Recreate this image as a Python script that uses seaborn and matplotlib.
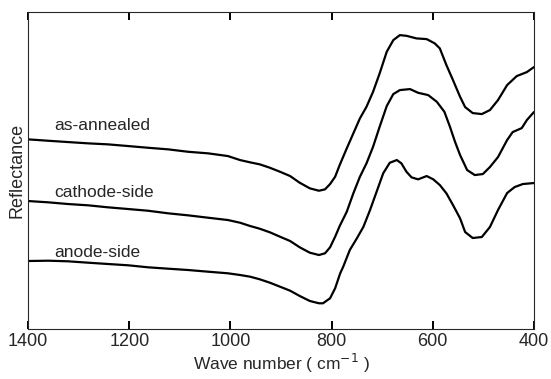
import numpy as np
import pandas as pd
import matplotlib
matplotlib.use("Agg")
import matplotlib.pyplot as plt
import seaborn as sns

# values (y in arbitrary reflectance units)
wn_annealed = [1400, 1360, 1321, 1281, 1242, 1202, 1163, 1123, 1084, 1044, 1005, 981,
               961, 942, 922, 902, 882, 863, 843, 825, 813, 803, 793, 784, 770, 757,
               744, 731, 718, 705, 691, 678, 665, 652, 632, 612, 596, 586, 573, 560,
               546, 536, 521, 503, 487, 471, 453, 434, 414, 400]
r_annealed = [189.7, 188.3, 187, 185.7, 184.7, 183, 181.3, 179.7, 177.3, 175.7, 173, 169,
              166.7, 164.7, 161.3, 157.3, 153, 146.3, 140.7, 138.3, 139.7, 145, 152.3, 164,
              180.7, 195.7, 210.7, 222.3, 237.3, 255.7, 277.3, 289, 294, 293.3, 290.7, 290,
              285.7, 280.7, 264, 249, 232.3, 222, 216, 215, 219, 229, 244, 253, 257, 262]

wn_cathode = [1400, 1360, 1321, 1281, 1242, 1202, 1163, 1123, 1084, 1044, 1005, 981,
              961, 942, 922, 902, 882, 863, 843, 825, 813, 803, 793, 784, 770, 757,
              744, 731, 718, 705, 691, 678, 665, 645, 629, 609, 592, 577, 566, 556,
              546, 532, 517, 501, 487, 471, 453, 442, 424, 414, 400]
r_cathode = [128, 126.7, 125, 123.7, 121.7, 120, 118.3, 115.7, 113.7, 111.3, 109, 106.3,
             103, 100.3, 96.7, 92.3, 88, 81.7, 76.3, 74, 75.7, 81.7, 92.3, 103, 117.3,
             135.7, 152.3, 165.7, 182.3, 202.3, 223, 235, 239, 240, 236.3, 234, 227.3,
             217.3, 202.3, 187.3, 174, 159, 154, 155, 162, 172, 189, 197, 201, 209, 217]

wn_anode = [1400, 1360, 1321, 1281, 1242, 1202, 1163, 1123, 1084, 1044, 1005, 981,
            961, 942, 922, 902, 882, 863, 843, 825, 817, 803, 793, 783, 777, 764,
            750, 737, 724, 711, 698, 685, 671, 662, 652, 642, 629, 612, 599, 586,
            573, 560, 546, 536, 521, 503, 487, 471, 453, 438, 422, 400]
r_anode = [68, 68.3, 67.7, 66.3, 65, 63.7, 61.7, 60.3, 59, 57.3, 55.7, 54,
           52.3, 49.7, 46.3, 42.3, 38.3, 33, 28, 25.7, 25.7, 30.7, 40.7, 55.7, 62.3, 79,
           90.7, 102.3, 119, 137.3, 155.7, 166.3, 169, 165.7, 157.3, 151.7, 149.7, 153,
           149.7, 144, 135.7, 124, 110.7, 97, 91, 92, 102, 119, 136, 142, 145, 146]

labels = ["as-annealed", "cathode-side", "anode-side"]
label_y = [204, 137, 77]

sns.set_style("ticks")
plt.rcParams["font.family"] = ["Liberation Sans", "DejaVu Sans"]

fig = plt.figure(figsize=(5.51, 3.79), dpi=100)
ax = fig.add_axes([0.051, 0.132, 0.918, 0.836])

for wn, r in [(wn_annealed, r_annealed), (wn_cathode, r_cathode), (wn_anode, r_anode)]:
    sns.lineplot(x=wn, y=r, color="black", linewidth=1.6, sort=False,
                 estimator=None, ax=ax)

for lab, yy in zip(labels, label_y):
    ax.text(1349, yy, lab, fontsize=12.5, va="center", ha="left")

ax.set_xlim(1400, 400)
ax.set_ylim(0, 317)
ax.set_yticks([])
ax.set_xticks([1400, 1200, 1000, 800, 600, 400])
ax.tick_params(axis="x", which="major", bottom=True, top=True, direction="in",
               length=6, width=1.4, color="black", labelsize=13, pad=3)
ax.set_xlabel("Wave number ( cm$^{-1}$ )", fontsize=12.5, labelpad=1)
ax.set_ylabel("Reflectance", fontsize=13, labelpad=2)

fig.savefig("out.png", dpi=100)
